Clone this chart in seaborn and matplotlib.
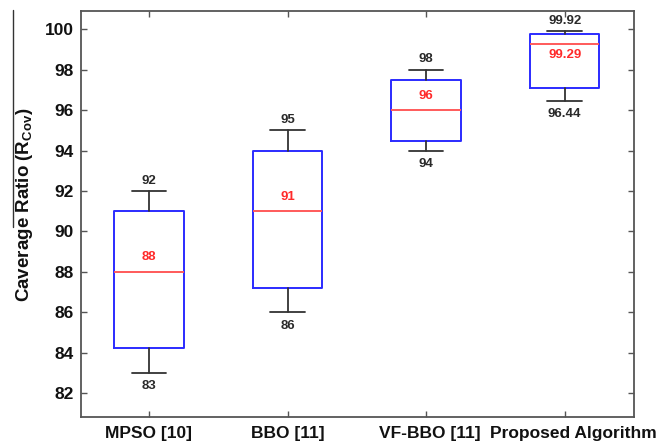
import matplotlib
matplotlib.use("Agg")
import matplotlib.pyplot as plt
import matplotlib.transforms as mtransforms
from matplotlib.lines import Line2D
import seaborn as sns

# Summary statistics of the coverage ratio for each algorithm
algorithms = ["MPSO [10]", "BBO [11]", "VF-BBO [11]", "Proposed Algorithm"]
whisker_low = [83, 86, 94, 96.44]
quartile_1 = [84.23, 87.22, 94.47, 97.12]
medians = [88, 91, 96, 99.29]
quartile_3 = [91, 94, 97.5, 99.75]
whisker_high = [92, 95, 98, 99.92]
median_labels = ["88", "91", "96", "99.29"]
low_labels = ["83", "86", "94", "96.44"]
high_labels = ["92", "95", "98", "99.92"]
yticks = [82, 84, 86, 88, 90, 92, 94, 96, 98, 100]

sns.set_style("white")
plt.rcParams["font.family"] = ["Liberation Sans", "DejaVu Sans"]
plt.rcParams["font.weight"] = "bold"
plt.rcParams["mathtext.fontset"] = "custom"
plt.rcParams["mathtext.rm"] = "Liberation Sans:bold"
plt.rcParams["mathtext.bf"] = "Liberation Sans:bold"

fig = plt.figure(figsize=(6.57, 4.43), dpi=100)
ax = fig.add_axes([81 / 657, 1 - 416.7 / 443, (634 - 81) / 657, (416.7 - 10.7) / 443])

stats = []
for i, name in enumerate(algorithms):
    stats.append({
        "label": name,
        "whislo": whisker_low[i],
        "q1": quartile_1[i],
        "med": medians[i],
        "q3": quartile_3[i],
        "whishi": whisker_high[i],
        "fliers": [],
    })

positions = list(range(len(algorithms)))
ax.bxp(
    stats,
    positions=positions,
    widths=0.5,
    showfliers=False,
    boxprops=dict(color="#2b2bff", linewidth=1.4),
    medianprops=dict(color="#ff5a5a", linewidth=1.4),
    whiskerprops=dict(color="#333333", linewidth=1.3),
    capprops=dict(color="#333333", linewidth=1.3),
)

# value labels at the caps and medians
for i, x in enumerate(positions):
    ax.annotate(high_labels[i], (x, whisker_high[i]), xytext=(0, 7.5),
                textcoords="offset points", ha="center", va="center",
                fontsize=9.5, fontweight="bold", color="#2a2a2a")
    ax.annotate(low_labels[i], (x, whisker_low[i]), xytext=(0, -9.5),
                textcoords="offset points", ha="center", va="center",
                fontsize=9.5, fontweight="bold", color="#2a2a2a")
    dy = -8 if i == len(positions) - 1 else 10.5
    ax.annotate(median_labels[i], (x, medians[i]), xytext=(0, dy),
                textcoords="offset points", ha="center", va="center",
                fontsize=9.5, fontweight="bold", color="#ff2a2a")

ax.set_xlim(-0.49, 3.5)
ax.set_ylim(80.84, 100.92)
ax.set_yticks(yticks)
ax.set_xticks(positions)
ax.set_xticklabels(algorithms, fontsize=12.5, fontweight="bold", color="#111111")
ax.tick_params(axis="y", labelsize=12.5, pad=5, labelcolor="#111111")
ax.tick_params(axis="x", pad=7)
ax.tick_params(which="both", direction="in", length=4, width=1, color="#555555",
               top=True, right=True, bottom=True, left=True)
for lab in ax.get_yticklabels():
    lab.set_fontweight("bold")
for s in ax.spines.values():
    s.set_color("#555555")
    s.set_linewidth(1.3)
    s.set_visible(True)

# nudge the last two category names apart so they do not touch
xl = ax.get_xticklabels()
xl[2].set_transform(xl[2].get_transform() + mtransforms.ScaledTranslation(4 / 100, 0, fig.dpi_scale_trans))
xl[3].set_transform(xl[3].get_transform() + mtransforms.ScaledTranslation(9 / 100, 0, fig.dpi_scale_trans))

ax.set_ylabel(r"Caverage Ratio (R$_{\mathbf{Cov}}$)", fontsize=13.5, fontweight="bold", color="#111111")
ax.yaxis.set_label_coords(35 / 657, 1 - 205 / 443, transform=fig.transFigure)

# overbar drawn beside the axis title
fig.add_artist(Line2D([13 / 657, 13 / 657], [1 - 10 / 443, 1 - 227 / 443],
                      transform=fig.transFigure, color="#333333", linewidth=1.0))

fig.savefig("out.png", dpi=100)
